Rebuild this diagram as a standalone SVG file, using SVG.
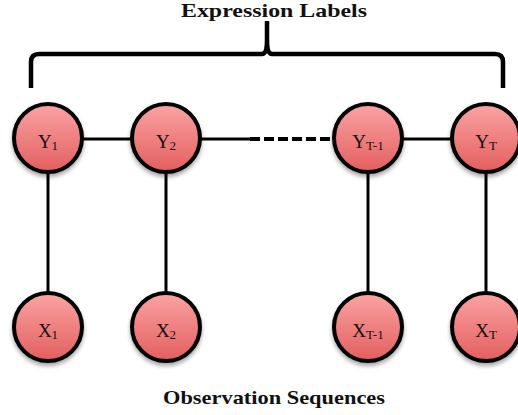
<svg xmlns="http://www.w3.org/2000/svg" width="518" height="415" viewBox="0 0 518 415">
<defs>
<linearGradient id="g" x1="0" y1="0" x2="0" y2="1">
<stop offset="0" stop-color="#fba3a3"/>
<stop offset="1" stop-color="#e35e5e"/>
</linearGradient>
<filter id="sh" x="-30%" y="-30%" width="160%" height="170%">
<feGaussianBlur in="SourceAlpha" stdDeviation="2"/>
<feOffset dy="3" result="b"/>
<feComponentTransfer><feFuncA type="linear" slope="0.35"/></feComponentTransfer>
<feMerge><feMergeNode/><feMergeNode in="SourceGraphic"/></feMerge>
</filter>
</defs>
<style>
.n{fill:url(#g);stroke:#000;stroke-width:4;filter:url(#sh)}
.e{stroke:#000;stroke-width:3;fill:none}
.l{font-family:"Liberation Serif","DejaVu Serif",serif;font-size:19px;fill:#111}
.s{font-size:13px}
.t{font-family:"Liberation Serif","DejaVu Serif",serif;font-weight:bold;font-size:19px;fill:#111}
</style>
<text class="t" x="274" y="17" text-anchor="middle" textLength="186" lengthAdjust="spacingAndGlyphs">Expression Labels</text>
<text class="t" x="274" y="404" text-anchor="middle" textLength="222" lengthAdjust="spacingAndGlyphs">Observation Sequences</text>
<g id="brace">
<path d="M31,88 L31,62 Q31,54 39,54 L262,54 Q267,54 267,40 L267,21 M267,40 Q267,54 272,54 L495,54 Q503,54 503,62 L503,88" fill="none" stroke="#000" stroke-width="4.5"/>
</g>
<g id="connectors">
<line class="e" x1="48" y1="139" x2="166" y2="139"/>
<line class="e" x1="166" y1="139" x2="250" y2="139"/>
<line stroke="#000" stroke-width="4" stroke-dasharray="10,4" x1="250" y1="139" x2="340" y2="139"/>
<line class="e" x1="368" y1="139" x2="486" y2="139"/>
<line class="e" x1="48" y1="139" x2="48" y2="327"/>
<line class="e" x1="166" y1="139" x2="166" y2="327"/>
<line class="e" x1="368" y1="139" x2="368" y2="327"/>
<line class="e" x1="486" y1="139" x2="486" y2="327"/>
</g>
<g id="Y1"><circle class="n" cx="48" cy="138" r="34"/><text class="l" x="48" y="148" text-anchor="middle">Y<tspan class="s" dy="2">1</tspan></text></g>
<g id="Y2"><circle class="n" cx="166" cy="138" r="34"/><text class="l" x="166" y="148" text-anchor="middle">Y<tspan class="s" dy="2">2</tspan></text></g>
<g id="YT-1"><circle class="n" cx="368" cy="138" r="34"/><text class="l" x="368" y="148" text-anchor="middle">Y<tspan class="s" dy="2">T-1</tspan></text></g>
<g id="YT"><circle class="n" cx="486" cy="138" r="34"/><text class="l" x="486" y="148" text-anchor="middle">Y<tspan class="s" dy="2">T</tspan></text></g>
<g id="X1"><circle class="n" cx="48" cy="327" r="34"/><text class="l" x="48" y="337" text-anchor="middle">X<tspan class="s" dy="2">1</tspan></text></g>
<g id="X2"><circle class="n" cx="166" cy="327" r="34"/><text class="l" x="166" y="337" text-anchor="middle">X<tspan class="s" dy="2">2</tspan></text></g>
<g id="XT-1"><circle class="n" cx="368" cy="327" r="34"/><text class="l" x="368" y="337" text-anchor="middle">X<tspan class="s" dy="2">T-1</tspan></text></g>
<g id="XT"><circle class="n" cx="486" cy="327" r="34"/><text class="l" x="486" y="337" text-anchor="middle">X<tspan class="s" dy="2">T</tspan></text></g>
</svg>
